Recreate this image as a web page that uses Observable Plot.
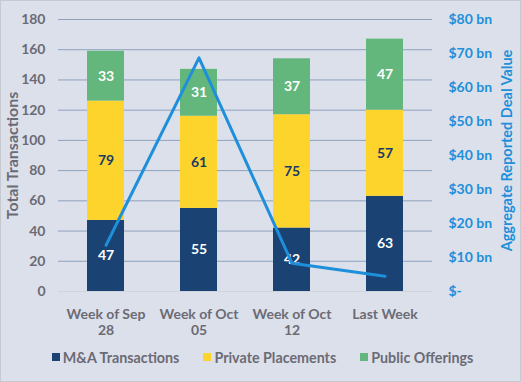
<!DOCTYPE html>
<html>
<head>
<meta charset="utf-8">
<script src="https://cdn.jsdelivr.net/npm/d3@7"></script>
<script src="https://cdn.jsdelivr.net/npm/@observablehq/plot@0.6"></script>
<style>
  html, body { margin: 0; padding: 0; }
  body { width: 521px; height: 382px; background: #dce0ea; position: relative; overflow: hidden; font-family: Lato, sans-serif; }
  #frame { position: absolute; left: 0; top: 0; width: 521px; height: 382px; box-sizing: border-box; border: 1px solid #c6c9d0; pointer-events: none; }
  #legend { height: 42px; display: flex; justify-content: center; align-items: center; gap: 24px; font-size: 14.3px; font-weight: 700; color: #6b6b76; padding-bottom: 8px; box-sizing: border-box; padding-left: 4px; }
  .item { display: flex; align-items: center; gap: 3px; }
  .sw { width: 8px; height: 8px; display: inline-block; }
</style>
</head>
<body>
<div id="chart"></div>
<div id="legend"></div>
<div id="frame"></div>
<script>
const categories = ["Week of Sep 28", "Week of Oct 05", "Week of Oct 12", "Last Week"];
const series = ["M&A Transactions", "Private Placements", "Public Offerings"];
const maTransactions = [47, 55, 42, 63];
const privatePlacements = [79, 61, 75, 57];
const publicOfferings = [33, 31, 37, 47];
const dealValueBn = [13.6, 68.7, 8.3, 4.5];
const leftTicks = [0, 20, 40, 60, 80, 100, 120, 140, 160, 180];
const rightTicks = [0, 10, 20, 30, 40, 50, 60, 70, 80];
const colors = ["#1a4273", "#fdd42b", "#63b77c"];
const lineColor = "#1e8fda";
const labelDark = "#1a3a68";
const textGrey = "#6b6b76";

const leftMax = 180, rightMax = 80;
const toLeft = v => v * leftMax / rightMax;

const valuesBySeries = [maTransactions, privatePlacements, publicOfferings];
const rows = categories.flatMap((c, i) => series.map((s, j) => ({category: c, series: s, value: valuesBySeries[j][i]})));
const lineData = categories.map((c, i) => ({category: c, value: dealValueBn[i]}));

const chart = Plot.plot({
  width: 521,
  height: 340,
  marginLeft: 58,
  marginRight: 89,
  marginTop: 19,
  marginBottom: 49,
  style: {background: "transparent", fontFamily: "Lato, sans-serif", fontSize: "14px", fontWeight: "700"},
  x: {domain: categories, paddingInner: 0.6, paddingOuter: 0.3, label: null},
  y: {domain: [0, leftMax], label: null},
  color: {domain: series, range: colors},
  marks: [
    Plot.gridY(leftTicks.filter(d => d > 0), {stroke: "#8ea2be", strokeOpacity: 1, strokeWidth: 1}),
    Plot.ruleY([0], {stroke: "#cfd3db", strokeWidth: 1}),
    Plot.barY(rows, Plot.stackY({x: "category", y: "value", fill: "series", z: "series"})),
    Plot.text(rows, Plot.stackY({x: "category", y: "value", z: "series",
      text: d => d.series === "Private Placements" ? "" : String(d.value), fill: "white", fontSize: 14, fontWeight: 700})),
    Plot.text(rows, Plot.stackY({x: "category", y: "value", z: "series",
      text: d => d.series === "Private Placements" ? String(d.value) : "", fill: labelDark, fontSize: 14, fontWeight: 700})),
    Plot.line(lineData, {x: "category", y: d => toLeft(d.value), stroke: lineColor, strokeWidth: 3}),
    Plot.axisY(leftTicks, {anchor: "left", tickSize: 0, tickPadding: 13, fill: textGrey, fontSize: 14, label: null}),
    Plot.axisY(rightTicks.map(toLeft), {anchor: "right", tickSize: 0, tickPadding: 16, fill: lineColor, fontSize: 14, label: null,
      tickFormat: d => { const v = Math.round(d * rightMax / leftMax); return v === 0 ? "$-" : `$${v} bn`; }}),
    Plot.axisX({tickSize: 0, tickPadding: 16, fill: textGrey, fontSize: 14, lineHeight: 1.15, label: null,
      tickFormat: d => d.replace(/ (\d+)$/, "\n$1")}),
    Plot.text(["Total Transactions"], {frameAnchor: "left", textAnchor: "middle", dx: -46, rotate: -90, fill: textGrey, fontSize: 16, fontWeight: 700}),
    Plot.text(["Aggregate Reported Deal Value"], {frameAnchor: "right", textAnchor: "middle", dx: 75, dy: -5, rotate: -90, fill: lineColor, fontSize: 14.5, fontWeight: 700})
  ]
});
document.getElementById("chart").appendChild(chart);

const legend = document.getElementById("legend");
series.forEach((s, i) => {
  const item = document.createElement("div");
  item.className = "item";
  const sw = document.createElement("span");
  sw.className = "sw";
  sw.style.background = colors[i];
  const t = document.createElement("span");
  t.textContent = s;
  item.appendChild(sw);
  item.appendChild(t);
  legend.appendChild(item);
});
</script>
</body>
</html>
